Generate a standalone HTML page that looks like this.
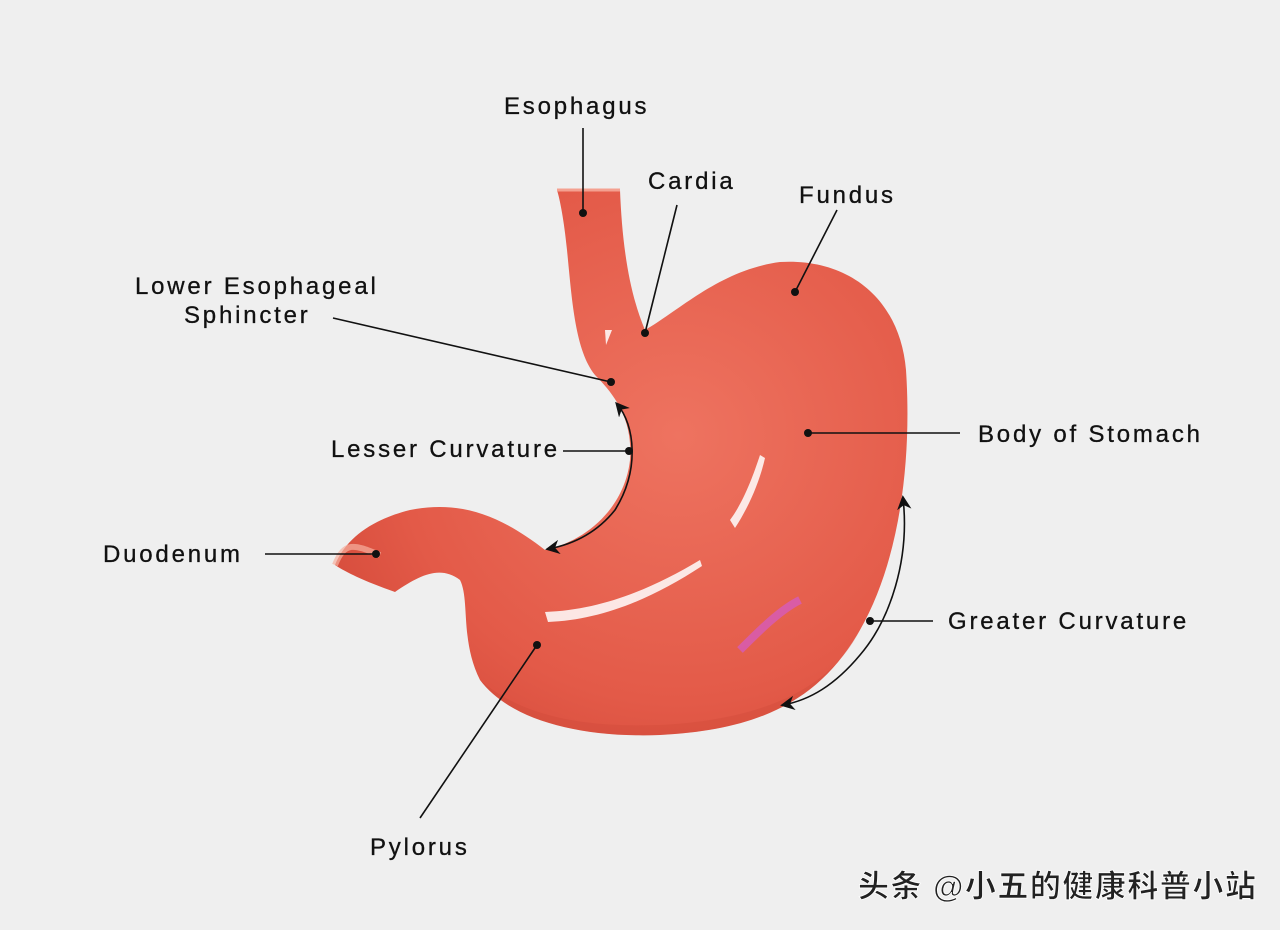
<!DOCTYPE html>
<html><head><meta charset="utf-8"><style>
html,body{margin:0;padding:0;background:#efefef;}
svg{display:block}
text{font-family:"Liberation Sans",sans-serif;font-size:24px;fill:#111;letter-spacing:2.8px;font-weight:400;stroke:#111;stroke-width:0.3}
</style></head><body>
<svg width="1280" height="930" viewBox="0 0 1280 930" xmlns="http://www.w3.org/2000/svg">
<defs>
<radialGradient id="g" cx="0.6" cy="0.45" r="0.7">
<stop offset="0" stop-color="#ee7360"/>
<stop offset="0.7" stop-color="#e35a48"/>
<stop offset="1" stop-color="#d44a3a"/>
</radialGradient>
<marker id="ah" viewBox="0 0 10 10" refX="8" refY="5" markerWidth="9" markerHeight="9" orient="auto-start-reverse">
<path d="M0,0 L10,5 L0,10 L3,5 Z" fill="#111"/></marker>
</defs>
<rect width="1280" height="930" fill="#efefef"/>
<path fill="url(#g)" d="M557,190 L620,190 C622,240 628,290 645,330 C680,310 720,270 780,262 C850,258 900,300 906,370 C912,460 900,560 860,630 C820,700 760,730 660,735 C580,738 510,720 480,680 C460,640 470,600 460,580 C440,565 420,575 395,592 C375,585 350,575 335,565 C345,540 370,520 410,510 C460,500 500,515 545,550 C590,540 625,505 630,460 C633,420 615,395 595,375 C575,350 572,300 567,250 C564,220 560,200 557,190 Z"/>
<path fill="#c94535" opacity="0.25" d="M480,680 C510,720 580,738 660,735 C760,730 820,700 860,630 C830,690 760,720 660,725 C580,728 520,715 480,680 Z"/>
<path d="M557,190 L620,190" stroke="#f4a090" stroke-width="3"/>
<path d="M335,565 C345,540 355,545 380,555" stroke="#f6b0a0" stroke-width="6" fill="none" opacity="0.7"/>
<g fill="#fff" opacity="0.85">
<path d="M545,612 C600,610 650,590 700,560 L702,566 C650,600 600,620 548,622 Z"/>
<path d="M730,520 C745,500 755,470 760,455 L765,458 C760,480 750,505 735,528 Z"/>
<path d="M605,330 L612,330 L606,345 Z"/>
</g>
<path d="M740,650 C760,630 780,610 800,600" stroke="#d05ae0" stroke-width="8" fill="none" opacity="0.6"/>
<g stroke="#111" stroke-width="1.6" fill="none">
<line x1="583" y1="128" x2="583" y2="213"/>
<line x1="677" y1="205" x2="645" y2="333"/>
<line x1="837" y1="210" x2="795" y2="292"/>
<line x1="333" y1="318" x2="611" y2="382"/>
<line x1="563" y1="451" x2="629" y2="451"/>
<line x1="808" y1="433" x2="960" y2="433"/>
<line x1="265" y1="554" x2="376" y2="554"/>
<line x1="870" y1="621" x2="933" y2="621"/>
<line x1="420" y1="818" x2="537" y2="645"/>
<path d="M617,404 C635,425 640,470 615,510 C595,535 570,545 548,549" marker-start="url(#ah)" marker-end="url(#ah)"/>
<path d="M903,498 C910,560 890,620 860,655 C835,685 810,700 783,705" marker-start="url(#ah)" marker-end="url(#ah)"/>
</g>
<g fill="#111">
<circle cx="583" cy="213" r="4"/><circle cx="645" cy="333" r="4"/><circle cx="795" cy="292" r="4"/>
<circle cx="611" cy="382" r="4"/><circle cx="629" cy="451" r="4"/><circle cx="808" cy="433" r="4"/>
<circle cx="376" cy="554" r="4"/><circle cx="870" cy="621" r="4"/><circle cx="537" cy="645" r="4"/>
</g>
<text x="504" y="114">Esophagus</text>
<text x="648" y="189">Cardia</text>
<text x="799" y="203">Fundus</text>
<text x="135" y="294">Lower Esophageal</text>
<text x="184" y="323">Sphincter</text>
<text x="331" y="457">Lesser Curvature</text>
<text x="978" y="442">Body of Stomach</text>
<text x="103" y="562">Duodenum</text>
<text x="948" y="629">Greater Curvature</text>
<text x="370" y="855">Pylorus</text>
<text x="858" y="897" style="font-family:'Liberation Sans','Noto Sans CJK SC',sans-serif;font-size:31px;font-weight:700;fill:#222;stroke:#fff;stroke-width:0.8;letter-spacing:1.5px">头条 @小五的健康科普小站</text>
</svg>
</body></html>
